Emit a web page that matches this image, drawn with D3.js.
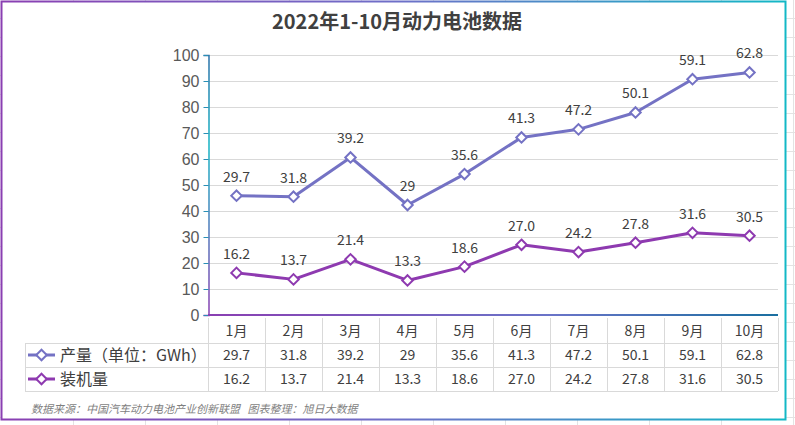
<!DOCTYPE html>
<meta charset="utf-8" />
<title>2022年1-10月动力电池数据</title>
<style>
  body { margin: 0; background: #fff; }
  svg { display: block; font-family: "Noto Sans CJK SC", "Open Sans", sans-serif; }
  .grid line { stroke: #d9d9d9; stroke-width: 1px; }
  .lbl { fill: #404040; font-size: 14px; }
  .cell { fill: #404040; font-size: 14px; }
</style>
<body>
<svg width="795" height="425"></svg>
<script src="https://d3js.org/d3.v7.min.js"></script>
<script>
  // data
  const months = ["1月", "2月", "3月", "4月", "5月", "6月", "7月", "8月", "9月", "10月"];
  const production = [29.7, 31.8, 39.2, 29, 35.6, 41.3, 47.2, 50.1, 59.1, 62.8];
  const installed = [16.2, 13.7, 21.4, 13.3, 18.6, 27.0, 24.2, 27.8, 31.6, 30.5];
  const installedText = ["16.2", "13.7", "21.4", "13.3", "18.6", "27.0", "24.2", "27.8", "31.6", "30.5"];
  const yTicks = [0, 10, 20, 30, 40, 50, 60, 70, 80, 90, 100];

  const W = 795, H = 425;
  const svg = d3.select("svg");
  const defs = svg.append("defs");

  // spreadsheet gridlines behind the chart frame
  const bg = svg.append("g").attr("stroke", "#e3e3e3").attr("stroke-width", 1);
  bg.selectAll("line.v").data(d3.range(73.5, W, 72)).join("line")
    .attr("x1", d => d).attr("x2", d => d).attr("y1", 0).attr("y2", H);
  bg.selectAll("line.h").data(d3.range(18.5, H, 19)).join("line")
    .attr("x1", 0).attr("x2", W).attr("y1", d => d).attr("y2", d => d);

  const frameGrad = defs.append("linearGradient").attr("id", "frameGrad")
    .attr("x1", "0").attr("y1", "0").attr("x2", "1").attr("y2", "0");
  frameGrad.append("stop").attr("offset", "0").attr("stop-color", "#8a3fb2");
  frameGrad.append("stop").attr("offset", "0.5").attr("stop-color", "#6f6fc8");
  frameGrad.append("stop").attr("offset", "1").attr("stop-color", "#13b8c6");

  svg.append("rect").attr("x", 1.5).attr("y", 1.5).attr("width", 784).attr("height", 418)
    .attr("fill", "#fff").attr("stroke", "url(#frameGrad)").attr("stroke-width", 2);

  // title
  svg.append("text").attr("x", 397).attr("y", 29).attr("text-anchor", "middle")
    .attr("font-size", 20).attr("font-weight", "bold").attr("fill", "#404040")
    .text("2022年1-10月动力电池数据");

  // scales
  const x = d3.scaleBand().domain(months).range([208, 778]).paddingInner(0).paddingOuter(0);
  const y = d3.scaleLinear().domain([0, 100]).range([315, 55]);
  const cx = m => x(m) + x.bandwidth() / 2;

  // stacked series (install at bottom, production stacked on top)
  const rows = months.map((m, i) => ({ month: m, installed: installed[i], production: production[i] }));
  const stacked = d3.stack().keys(["installed", "production"])(rows);

  // gridlines
  svg.append("g").attr("class", "grid")
    .selectAll("line").data(yTicks.filter(d => d > 0)).join("line")
    .attr("x1", 208).attr("x2", 778)
    .attr("y1", d => Math.round(y(d)) + 0.5).attr("y2", d => Math.round(y(d)) + 0.5);

  // axes with gradient strokes
  const yGrad = defs.append("linearGradient").attr("id", "yGrad")
    .attr("gradientUnits", "userSpaceOnUse").attr("x1", 0).attr("y1", y(100)).attr("x2", 0).attr("y2", y(0));
  yGrad.append("stop").attr("offset", "0").attr("stop-color", "#2b6fa8");
  yGrad.append("stop").attr("offset", "0.35").attr("stop-color", "#16b4c4");
  yGrad.append("stop").attr("offset", "1").attr("stop-color", "#8a3fb2");
  const xGrad = defs.append("linearGradient").attr("id", "xGrad")
    .attr("gradientUnits", "userSpaceOnUse").attr("x1", 208).attr("y1", 0).attr("x2", 778).attr("y2", 0);
  xGrad.append("stop").attr("offset", "0").attr("stop-color", "#8a3fb2");
  xGrad.append("stop").attr("offset", "0.6").attr("stop-color", "#6a74c8");
  xGrad.append("stop").attr("offset", "1").attr("stop-color", "#1a6fa0");

  const yAxis = svg.append("g").attr("transform", "translate(208.5,0)")
    .call(d3.axisLeft(y).tickValues(yTicks).tickSize(5).tickPadding(4));
  yAxis.select(".domain").attr("stroke", "url(#yGrad)").attr("stroke-width", 1.5);
  yAxis.selectAll(".tick line").attr("stroke", "#2a8fb5");
  yAxis.selectAll("text").attr("fill", "#595959").attr("font-size", 16)
    .attr("font-family", "'Liberation Sans', Arial, sans-serif");

  svg.append("line").attr("x1", 208).attr("x2", 778).attr("y1", y(0)).attr("y2", y(0))
    .attr("stroke", "url(#xGrad)").attr("stroke-width", 2);

  // series
  const series = [
    { key: "production", color: "#7472c4", pts: stacked[1], text: production.map(String), name: "产量（单位：GWh）" },
    { key: "installed", color: "#8e3ab0", pts: stacked[0], text: installedText, name: "装机量" }
  ];

  const line = d3.line().x(d => cx(d.data.month)).y(d => y(d[1]));
  const diamond = d3.symbol().type(d3.symbolDiamond2).size(70);

  series.forEach(s => {
    const g = svg.append("g");
    g.append("path").datum(s.pts).attr("d", line)
      .attr("fill", "none").attr("stroke", s.color).attr("stroke-width", 3).attr("stroke-linejoin", "round");
    g.selectAll("path.mk").data(s.pts).join("path").attr("class", "mk")
      .attr("d", diamond)
      .attr("transform", d => `translate(${cx(d.data.month)},${y(d[1])})`)
      .attr("fill", "#fff").attr("stroke", s.color).attr("stroke-width", 2);
    g.selectAll("text").data(s.pts).join("text").attr("class", "lbl")
      .attr("x", d => cx(d.data.month)).attr("y", d => y(d[1]) - 14)
      .attr("text-anchor", "middle")
      .text((d, i) => s.text[i]);
  });

  // data table
  const rowY = [318, 343, 367, 391];
  const tbl = svg.append("g").attr("stroke", "#d9d9d9").attr("stroke-width", 1);
  tbl.selectAll("line.col").data(d3.range(months.length + 1)).join("line")
    .attr("x1", i => Math.round(208 + i * x.bandwidth()) + 0.5)
    .attr("x2", i => Math.round(208 + i * x.bandwidth()) + 0.5)
    .attr("y1", rowY[0]).attr("y2", rowY[3]);
  tbl.selectAll("line.row").data(rowY.slice(1)).join("line")
    .attr("x1", 25).attr("x2", 778).attr("y1", d => d + 0.5).attr("y2", d => d + 0.5);
  tbl.append("line").attr("x1", 25.5).attr("x2", 25.5).attr("y1", rowY[1]).attr("y2", rowY[3]);

  svg.append("g").selectAll("text").data(months).join("text").attr("class", "cell")
    .attr("x", m => cx(m)).attr("y", (rowY[0] + rowY[1]) / 2 + 5)
    .attr("text-anchor", "middle").attr("font-size", 15).text(m => m);

  series.forEach((s, r) => {
    const midY = (rowY[r + 1] + rowY[r + 2]) / 2;
    const g = svg.append("g");
    g.append("line").attr("x1", 28).attr("x2", 55).attr("y1", midY).attr("y2", midY)
      .attr("stroke", s.color).attr("stroke-width", 3);
    g.append("path").attr("d", diamond)
      .attr("transform", `translate(41.5,${midY})`)
      .attr("fill", "#fff").attr("stroke", s.color).attr("stroke-width", 2);
    g.append("text").attr("x", 60).attr("y", midY + 5.5).attr("fill", "#404040")
      .attr("font-size", 16).text(s.name);
    g.selectAll("text.v").data(months).join("text").attr("class", "cell v")
      .attr("x", m => cx(m)).attr("y", midY + 5)
      .attr("text-anchor", "middle").text((m, i) => s.text[i]);
  });

  // source note
  svg.append("text").attr("x", 31).attr("y", 413).attr("font-size", 11)
    .attr("font-style", "italic").attr("fill", "#7f7f7f")
    .attr("xml:space", "preserve")
    .text("数据来源：中国汽车动力电池产业创新联盟   图表整理：旭日大数据");
</script>
</body>
